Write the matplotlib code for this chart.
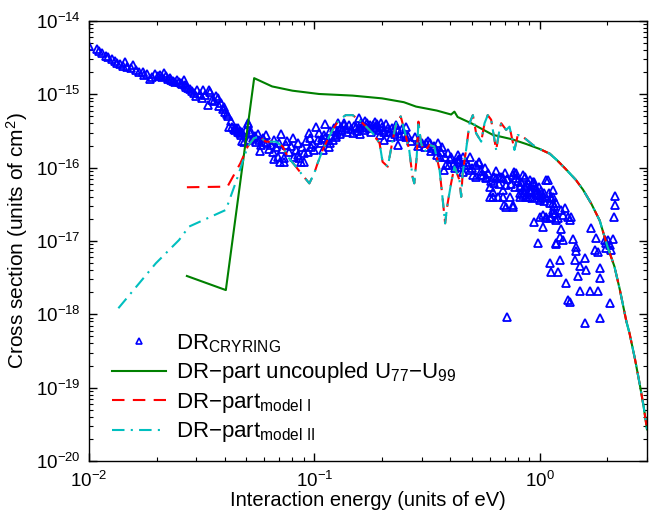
import matplotlib
matplotlib.use("Agg")
import matplotlib.pyplot as plt
import numpy as np

plt.rcParams['font.family'] = ['Liberation Sans', 'DejaVu Sans']
plt.rcParams['mathtext.fontset'] = 'custom'
plt.rcParams['mathtext.rm'] = 'Liberation Sans'
plt.rcParams['mathtext.it'] = 'Liberation Sans:italic'
plt.rcParams['mathtext.bf'] = 'Liberation Sans:bold'

# measured DR rate coefficient (energy in eV, cross section in 1e-16 cm^2)
e_dr = [
    0.0100, 0.0108, 0.0111, 0.0114, 0.0119, 0.0121, 0.0126, 0.0130, 0.0133, 0.0137,
    0.0142, 0.0145, 0.0148, 0.0153, 0.0157, 0.0162, 0.0167, 0.0173, 0.0176, 0.0180,
    0.0186, 0.0190, 0.0196, 0.0203, 0.0206, 0.0210, 0.0216, 0.0220, 0.0225, 0.0228,
    0.0232, 0.0236, 0.0240, 0.0247, 0.0251, 0.0256, 0.0259, 0.0263, 0.0266, 0.0270,
    0.0276, 0.0281, 0.0287, 0.0292, 0.0298, 0.0303, 0.0310, 0.0316, 0.0322, 0.0328,
    0.0337, 0.0341, 0.0346, 0.0353, 0.0360, 0.0366, 0.0374, 0.0376, 0.0384, 0.0392,
    0.0397, 0.0401, 0.0408, 0.0415, 0.0419, 0.0426, 0.0433, 0.0438, 0.0444, 0.0450,
    0.0458, 0.0466, 0.0472, 0.0479, 0.0457, 0.0467, 0.0479, 0.0506, 0.0489, 0.0514,
    0.0497, 0.0506, 0.0520, 0.0526, 0.0532, 0.0545, 0.0551, 0.0560, 0.0570, 0.0575,
    0.0580, 0.0590, 0.0600, 0.0610, 0.0620, 0.0630, 0.0642, 0.0653, 0.0660, 0.0665,
    0.0676, 0.0687, 0.0700, 0.0705, 0.0711, 0.0720, 0.0736, 0.0748, 0.0760, 0.0774,
    0.0790, 0.0801, 0.0815, 0.0830, 0.0843, 0.0850, 0.0858, 0.0873, 0.0880, 0.0903,
    0.0903, 0.0920, 0.0934, 0.0951, 0.0960, 0.0967, 0.0985, 0.100, 0.102, 0.0736,
    0.1035, 0.105, 0.107, 0.108, 0.109, 0.110, 0.112, 0.112, 0.1145, 0.1166,
    0.118, 0.118, 0.1206, 0.122, 0.125, 0.125, 0.126, 0.127, 0.130, 0.1315,
    0.133, 0.135, 0.136, 0.1384, 0.140, 0.143, 0.145, 0.148, 0.150, 0.153,
    0.155, 0.158, 0.160, 0.160, 0.162, 0.164, 0.166, 0.168, 0.170, 0.172,
    0.1755, 0.176, 0.178, 0.1816, 0.184, 0.187, 0.188, 0.190, 0.194, 0.195,
    0.198, 0.200, 0.203, 0.205, 0.205, 0.208, 0.212, 0.215, 0.219, 0.222,
    0.224, 0.228, 0.231, 0.235, 0.235, 0.240, 0.246, 0.250, 0.255, 0.256,
    0.26, 0.27, 0.28, 0.29, 0.293, 0.30, 0.31, 0.313, 0.32, 0.325,
    0.33, 0.336, 0.34, 0.347, 0.35, 0.354, 0.36, 0.366, 0.37, 0.378,
    0.38, 0.385, 0.391, 0.398, 0.40, 0.405, 0.419, 0.42, 0.434, 0.434,
    0.441, 0.44, 0.449, 0.456, 0.456, 0.46, 0.47, 0.480, 0.489, 0.489,
    0.50, 0.506, 0.52, 0.523, 0.541, 0.541, 0.55, 0.551, 0.56, 0.57,
    0.579, 0.579, 0.59, 0.60, 0.60, 0.61, 0.62, 0.62, 0.631, 0.631,
    0.64, 0.642, 0.653, 0.66, 0.664, 0.676, 0.687, 0.687, 0.687, 0.699,
    0.70, 0.711, 0.711, 0.72, 0.736, 0.75, 0.761, 0.761, 0.761, 0.774,
    0.78, 0.788, 0.788, 0.80, 0.815, 0.815, 0.72,
    0.82, 0.830, 0.843, 0.843, 0.843, 0.858, 0.86, 0.873, 0.873, 0.887,
    0.887, 0.90, 0.903, 0.903, 0.919, 0.919, 0.93, 0.934, 0.934, 0.950,
    0.950, 0.96, 0.967, 0.967, 0.983, 0.983, 0.99, 1.0, 1.0, 1.0,
    1.017, 1.02, 1.035, 1.035, 1.035, 1.05, 1.052, 1.071, 1.071, 1.071,
    1.089, 1.10, 1.108, 1.108, 1.108, 1.127, 1.127, 1.127, 1.13, 1.146,
    1.146, 1.146, 1.146, 1.146, 1.16, 1.166, 1.186, 1.186, 1.186, 1.186,
    1.206, 1.206, 1.227, 1.227, 1.248, 1.248, 1.270, 1.270, 1.292, 1.314,
    1.336, 1.336, 1.359, 1.359, 1.383, 1.406, 1.431, 1.45, 1.455, 1.480,
    1.506, 1.506, 1.585, 1.585, 1.612, 1.668, 1.697, 1.755, 1.786, 1.816,
    1.816, 1.848, 1.848, 1.848, 1.945, 1.978, 2.012, 2.047, 2.083, 2.119,
    2.14, 2.155, 2.155, 1.98, 2.05,
]
s_dr = [
    45.7, 41.2, 39.4, 37.0, 33.7, 32.7, 30.5, 28.6, 27.0, 26.0,
    24.4, 27.9, 23.5, 22.7, 25.0, 21.5, 20.4, 20.0, 18.3, 19.0,
    16.2, 17.4, 19.0, 17.8, 18.6, 17.1, 19.4, 17.5, 16.1, 16.8,
    15.7, 15.0, 14.9, 15.7, 14.5, 14.1, 13.8, 15.7, 13.4, 12.5,
    12.0, 11.7, 11.2, 10.4, 9.5, 11.4, 10.0, 8.9, 11.4, 9.8,
    7.2, 11.4, 10.6, 8.4, 8.0, 9.4, 8.9, 7.0, 7.5, 6.3,
    6.7, 5.8, 5.4, 5.0, 3.6, 4.3, 3.6, 3.4, 3.3, 3.5,
    3.1, 3.2, 2.8, 2.3, 3.44, 2.94, 3.10, 4.03, 2.26, 2.39,
    3.3, 3.9, 3.0, 3.1, 2.52, 2.7, 2.26, 2.9, 2.39, 1.7,
    2.04, 2.5, 2.26, 2.8, 2.15, 1.8, 2.04, 1.65, 2.4, 1.3,
    1.94, 1.41, 2.2, 1.2, 2.85, 1.8, 1.34, 2.04, 2.3, 1.65,
    2.0, 2.52, 1.4, 1.74, 1.49, 2.2, 1.34, 1.21, 1.9, 1.57,
    1.2, 2.3, 1.65, 2.94, 2.5, 1.94, 2.1, 1.74, 3.62, 1.2,
    2.39, 3.0, 2.15, 2.5, 1.74, 2.8, 2.52, 3.9, 2.39, 1.94,
    3.2, 2.2, 2.39, 3.5, 2.79, 2.6, 3.1, 4.03, 2.9, 3.62,
    3.3, 3.8, 4.03, 3.44, 3.1, 3.83, 3.4, 2.94, 3.7, 3.62,
    3.2, 4.72, 3.5, 2.9, 4.1, 3.83, 3.3, 4.3, 3.62, 4.0,
    3.44, 3.8, 3.1, 3.83, 3.5, 4.2, 3.62, 3.9, 3.3, 2.8,
    4.03, 3.6, 3.1, 3.27, 2.39, 3.9, 3.44, 3.1, 2.65, 3.5,
    3.10, 2.9, 3.83, 3.3, 2.04, 2.7, 3.4, 2.9, 3.6, 2.6,
    2.7, 2.3, 2.6, 2.0, 2.39, 2.2, 1.9, 2.15, 2.3, 2.15,
    1.7, 1.84, 2.0, 1.74, 1.5, 2.15, 1.41, 1.65, 1.9, 0.93,
    1.4, 1.09, 1.57, 1.09, 1.3, 1.41, 1.15, 1.0, 1.5, 1.27,
    1.21, 1.3, 1.03, 0.88, 1.41, 1.1, 1.2, 1.09, 0.93, 1.41,
    1.0, 0.80, 1.1, 0.75, 1.21, 1.15, 0.9, 0.80, 0.80, 1.0,
    0.72, 0.75, 0.85, 0.55, 0.40, 0.65, 0.47, 0.40, 0.61, 0.75,
    0.9, 0.72, 0.40, 0.6, 0.75, 0.75, 0.72, 0.50, 0.40, 0.31,
    0.85, 0.58, 0.29, 0.7, 0.40, 0.6, 0.31, 0.80, 0.29, 0.88,
    0.55, 0.72, 0.84, 0.65, 0.55, 0.40, 0.0092,
    0.45, 0.644, 0.80, 0.50, 0.425, 0.754, 0.55, 0.58, 0.40, 0.612,
    0.40, 0.5, 0.402, 0.68, 0.47, 0.497, 0.38, 0.644, 0.61, 0.64,
    0.183, 0.45, 0.52, 0.497, 0.425, 0.093, 0.55, 0.42, 0.362, 0.215,
    0.383, 0.48, 0.40, 0.226, 0.157, 0.35, 0.448, 0.68, 0.204, 0.215,
    0.68, 0.45, 0.333, 0.204, 0.0506, 0.40, 0.215, 0.0381, 0.38, 0.402,
    0.333, 0.50, 0.265, 0.24, 0.3, 0.239, 0.33, 0.194, 0.093, 0.09,
    0.204, 0.0381, 0.115, 0.055, 0.265, 0.144, 0.226, 0.103, 0.279, 0.0265,
    0.215, 0.0157, 0.194, 0.0149, 0.215, 0.107, 0.055, 0.082, 0.074, 0.0333,
    0.0456, 0.021, 0.058, 0.0077, 0.0403, 0.021, 0.152, 0.075, 0.109, 0.071,
    0.021, 0.0424, 0.031, 0.0088, 0.103, 0.079, 0.103, 0.0141, 0.075, 0.105,
    0.21, 0.307, 0.415, 0.095, 0.088,
]

# uncoupled U77-U99 DR part (cm^2)
e_unc = [0.0272, 0.0405, 0.0541, 0.065, 0.08, 0.105, 0.148, 0.2, 0.25, 0.283,
         0.35, 0.405, 0.419, 0.433, 0.5, 0.62, 0.75, 0.873, 1.0, 1.11,
         1.2, 1.31, 1.45, 1.56, 1.7, 1.85, 2.0, 2.15, 2.27, 2.43,
         2.51, 2.65, 2.78, 2.9, 3.0]
s_unc = [3.33e-18, 2.14e-18, 1.66e-15, 1.28e-15, 1.12e-15, 1.01e-15, 0.96e-15, 0.88e-15, 0.78e-15, 0.68e-15,
         0.6e-15, 5.3e-16, 5.8e-16, 4.9e-16, 4.0e-16, 2.8e-16, 2.45e-16, 2.1e-16, 1.8e-16, 1.55e-16,
         1.25e-16, 0.95e-16, 0.68e-16, 0.5e-16, 0.32e-16, 1.9e-17, 8.5e-18, 4.5e-18, 2.2e-18, 8e-19,
         5.5e-19, 2.5e-19, 1.15e-19, 5.5e-20, 2.7e-20]

# model I
e_m1 = [0.0272, 0.0405, 0.0413, 0.047, 0.0506, 0.054, 0.057, 0.0609, 0.0677, 0.0725,
        0.0762, 0.0817, 0.0873, 0.0951, 0.1, 0.1035, 0.109, 0.1145, 0.1206, 0.129,
        0.138, 0.148, 0.158, 0.17, 0.1816, 0.195, 0.201, 0.212, 0.223, 0.231,
        0.242, 0.251, 0.264, 0.273, 0.278, 0.285, 0.29, 0.298, 0.309, 0.325,
        0.341, 0.36, 0.372, 0.381, 0.391, 0.405, 0.419, 0.441, 0.449, 0.456,
        0.472, 0.489, 0.506, 0.523, 0.551, 0.570, 0.589, 0.610, 0.631, 0.642,
        0.664, 0.676, 0.711, 0.736, 0.774, 0.801, 0.843, 0.934, 1.0, 1.11,
        1.2, 1.31, 1.45, 1.56, 1.7, 1.85, 2.0, 2.15, 2.27, 2.43,
        2.51, 2.65, 2.78, 2.9, 3.0]
s_m1 = [5.4e-17, 5.5e-17, 5.6e-17, 1.15e-16, 1.93e-16, 2.52e-16, 2.65e-16, 2.26e-16, 2.26e-16, 1.93e-16,
        1.41e-16, 1.09e-16, 8.4e-17, 6.1e-17, 8.4e-17, 1.15e-16, 1.74e-16, 2.39e-16, 3.27e-16, 4.5e-16,
        5.2e-16, 5.2e-16, 4.5e-16, 3.62e-16, 2.95e-16, 2.15e-16, 1.2e-16, 1.03e-16, 2.39e-16, 4.03e-16,
        5.0e-16, 3.27e-16, 1.74e-16, 7.5e-17, 6.1e-17, 1.41e-16, 4.24e-16, 2.15e-16, 1.65e-16, 2.04e-16,
        1.94e-16, 9.3e-17, 3.6e-17, 1.74e-17, 3.27e-17, 6.1e-17, 1.03e-16, 6.8e-17, 4.0e-17, 8.4e-17,
        1.74e-16, 4.03e-16, 5.2e-16, 2.95e-16, 2.26e-16, 4.03e-16, 5.2e-16, 4.5e-16, 2.39e-16, 1.74e-16,
        3.27e-16, 4.03e-16, 3.27e-16, 3.62e-16, 1.74e-16, 2.79e-16, 2.65e-16, 2.04e-16, 1.8e-16, 1.55e-16,
        1.25e-16, 0.95e-16, 0.68e-16, 0.5e-16, 0.32e-16, 1.9e-17, 8.5e-18, 4.5e-18, 2.2e-18, 8e-19,
        5.5e-19, 2.5e-19, 1.15e-19, 5.5e-20, 2.7e-20]

# model II: differs from model I only below ~0.05 eV
e_m2_low = [0.0135, 0.0198, 0.0251, 0.0278, 0.0405, 0.045, 0.0485]
s_m2_low = [1.21e-18, 4.96e-18, 1.03e-17, 1.57e-17, 2.65e-17, 6.5e-17, 1.3e-16]
e_m2 = e_m2_low + e_m1[4:]
s_m2 = s_m2_low + s_m1[4:]

fig = plt.figure(figsize=(6.53, 5.15), dpi=100)
ax = fig.add_axes([0.1363, 0.1049, 0.8545, 0.8544])

ax.plot(e_dr, np.array(s_dr) * 1e-16, '^', color='b', mfc='none', mec='b',
        ms=6, mew=1.3, label=r'DR$_{\mathrm{CRYRING}}$')
ax.plot(e_unc, s_unc, '-', color='#008000', lw=1.5,
        label='DR\u2212part uncoupled U$_{77}$\u2212U$_{99}$')
ax.plot(e_m1, s_m1, '--', color='r', lw=1.5, dashes=(6, 4),
        label=r'DR$-$part$_{\mathrm{model\ I}}$')
ax.plot(e_m2, s_m2, '-.', color='#00BFBF', lw=1.5, dashes=(6, 3, 1, 3),
        label=r'DR$-$part$_{\mathrm{model\ II}}$')

ax.set_xscale('log')
ax.set_yscale('log')
ax.set_xlim(0.01, 3.0)
ax.set_ylim(1e-20, 1e-14)
ax.set_yticks([1e-20, 1e-19, 1e-18, 1e-17, 1e-16, 1e-15, 1e-14])
ax.tick_params(which='both', direction='in', top=True, right=True, labelsize=13.5)
ax.tick_params(which='major', length=6, width=1)
ax.tick_params(which='minor', length=3, width=0.8)
ax.tick_params(axis='x', which='both', pad=7)
ax.tick_params(axis='y', which='both', pad=6)
for sp in ax.spines.values():
    sp.set_linewidth(1.0)

ax.set_xlabel('Interaction energy (units of eV)', fontsize=14.5, labelpad=0)
ax.set_ylabel('Cross section (units of cm$^2$)', fontsize=15, labelpad=4)

leg = ax.legend(loc='lower left', bbox_to_anchor=(0.006, -0.008), frameon=False,
                fontsize=16, handlelength=2.4, labelspacing=0.25,
                numpoints=1, handletextpad=0.45)
leg.legend_handles[0].set_markersize(4)
leg.legend_handles[0].set_markeredgewidth(1.2)

fig.savefig('out.png', dpi=100)
